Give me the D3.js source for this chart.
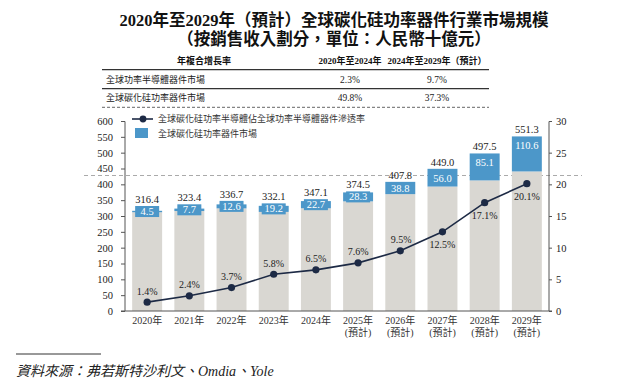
<!DOCTYPE html>
<html><head><meta charset="utf-8">
<script src="https://cdn.jsdelivr.net/npm/d3@7"></script>
<style>
html,body{margin:0;padding:0;background:#fff;}
svg{display:block;}
</style></head>
<body>
<script>
const years = ["2020年","2021年","2022年","2023年","2024年","2025年","2026年","2027年","2028年","2029年"];
const forecast = [false,false,false,false,false,true,true,true,true,true];
const totalMarket = [316.4,323.4,336.7,332.1,347.1,374.5,407.8,449.0,497.5,551.3];
const sicMarket = [4.5,7.7,12.6,19.2,22.7,28.3,38.8,56.0,85.1,110.6];
const penetration = [1.4,2.4,3.7,5.8,6.5,7.6,9.5,12.5,17.1,20.1];
const leftTicks = [0,50,100,150,200,250,300,350,400,450,500,550,600];
const rightTicks = [0,5,10,15,20,25,30];
const titleLines = ["2020年至2029年（預計）全球碳化硅功率器件行業市場規模","（按銷售收入劃分，單位：人民幣十億元）"];
const tableHeader = ["年複合增長率","2020年至2024年","2024年至2029年（預計）"];
const tableRows = [["全球功率半導體器件市場","2.3%","9.7%"],["全球碳化硅功率器件市場","49.8%","37.3%"]];
const legendLabels = ["全球碳化硅功率半導體佔全球功率半導體器件滲透率","全球碳化硅功率器件市場"];
const sourceText = "資料來源：弗若斯特沙利文、Omdia、Yole";

const W = 640, H = 379;
const FONT = "'Liberation Serif','Noto Sans CJK TC',serif";
const BLUE = "#4c97c9", GRAY = "#d9d7d2", LINE = "#1d2a45", TXT = "#222";

const svg = d3.select("body").append("svg").attr("width", W).attr("height", H)
  .style("font-family", FONT);

// Title
svg.selectAll("text.title").data(titleLines).enter().append("text")
  .attr("x", 334).attr("y", (d,i)=> i===0 ? 25.5 : 44.5)
  .attr("text-anchor","middle").attr("font-size",16.5).attr("font-weight","bold")
  .attr("fill","#111").text(d=>d);

// Table
const tx0 = 102, tx1 = 489;
const colX = [204, 350, 437];
svg.selectAll("text.th").data(tableHeader).enter().append("text")
  .attr("x",(d,i)=>colX[i]).attr("y",64).attr("text-anchor","middle")
  .attr("font-size",9).attr("font-weight","bold").attr("fill","#111").text(d=>d);
svg.append("line").attr("x1",tx0).attr("x2",tx1).attr("y1",69.7).attr("y2",69.7).attr("stroke","#333").attr("stroke-width",1.2);
svg.append("line").attr("x1",tx0).attr("x2",tx1).attr("y1",88.7).attr("y2",88.7).attr("stroke","#333").attr("stroke-width",1.2);
svg.append("line").attr("x1",tx0).attr("x2",tx1).attr("y1",107.3).attr("y2",107.3).attr("stroke","#666").attr("stroke-width",1).attr("stroke-dasharray","3,2");
tableRows.forEach((row,r)=>{
  const y = r===0 ? 83 : 101;
  row.forEach((c,i)=>{
    svg.append("text").attr("x", i===0 ? 106 : colX[i]).attr("y",y)
      .attr("text-anchor", i===0 ? "start" : "middle")
      .attr("font-size", i===0 ? 9 : 9.5).attr("fill","#222").text(c);
  });
});

// Scales
const x = d3.scaleBand().domain(years).range([125,549]).paddingInner(0.29).paddingOuter(0.17);
const yL = d3.scaleLinear().domain([0,600]).range([311,121]);
const yR = d3.scaleLinear().domain([0,30]).range([311,121]);

// dashed reference line (across)
svg.append("line").attr("x1",84).attr("x2",582).attr("y1",175.5).attr("y2",175.5)
  .attr("stroke","#aaa").attr("stroke-width",1).attr("stroke-dasharray","4,3");

// Gray bars
const bw = x.bandwidth();
svg.selectAll("rect.base").data(years).enter().append("rect")
  .attr("x",d=>x(d)).attr("width",bw)
  .attr("y",(d,i)=>yL(totalMarket[i]-sicMarket[i]))
  .attr("height",(d,i)=>yL(0)-yL(totalMarket[i]-sicMarket[i]))
  .attr("fill",GRAY);
// Blue segments
svg.selectAll("rect.sic").data(years).enter().append("rect")
  .attr("x",d=>x(d)).attr("width",bw)
  .attr("y",(d,i)=>yL(totalMarket[i]))
  .attr("height",(d,i)=>Math.max(1.2, yL(totalMarket[i]-sicMarket[i])-yL(totalMarket[i])))
  .attr("fill",BLUE);

// Label boxes for small segments + labels
const boxH = 11, boxW = 24;
years.forEach((yr,i)=>{
  const top = yL(totalMarket[i]);
  const bot = yL(totalMarket[i]-sicMarket[i]);
  const segH = bot - top;
  const cx = x(yr) + bw/2;
  const cy = (top+bot)/2;
  let labelTop = top;
  if (segH < 9.5) {
    svg.append("rect").attr("x",cx-boxW/2).attr("y",cy-boxH/2).attr("width",boxW).attr("height",boxH).attr("fill",BLUE);
    labelTop = Math.min(top, cy-boxH/2);
  }
  svg.append("text").attr("x",cx).attr("y", segH < 9.5 ? cy+3.6 : (segH < 16 ? cy+3.8 : top + 13))
    .attr("text-anchor","middle").attr("font-size",10.5).attr("fill","#fff").text(sicMarket[i].toFixed(1));
  svg.append("text").attr("x",cx).attr("y",labelTop-3)
    .attr("text-anchor","middle").attr("font-size",10.5).attr("fill",TXT).text(totalMarket[i].toFixed(1));
});

// Axes
const axL = svg.append("g").attr("transform","translate(125,0)")
  .call(d3.axisLeft(yL).tickValues(leftTicks).tickSize(4).tickPadding(8).tickFormat(d3.format("d")));
const axR = svg.append("g").attr("transform","translate(549,0)")
  .call(d3.axisRight(yR).tickValues(rightTicks).tickSize(3).tickPadding(4).tickFormat(d3.format("d")));
[axL,axR].forEach(a=>{
  a.select(".domain").attr("stroke","#555");
  a.selectAll(".tick line").attr("stroke","#555");
  a.selectAll(".tick text").attr("font-size",10.5).attr("fill",TXT).attr("font-family",FONT);
});
axL.select(".domain").attr("d","M-4,121.5H0V311H-4");
axR.select(".domain").attr("d","M3,121.5H0V311H3");
svg.append("line").attr("x1",125).attr("x2",549).attr("y1",311).attr("y2",311).attr("stroke","#555");

// X labels
years.forEach((yr,i)=>{
  const cx = x(yr)+bw/2;
  svg.append("text").attr("x",cx).attr("y",324).attr("text-anchor","middle")
    .attr("font-size",10).attr("fill","#333").text(yr);
  if (forecast[i]) svg.append("text").attr("x",cx).attr("y",336).attr("text-anchor","middle")
    .attr("font-size",10).attr("fill","#333").text("(預計)");
});

// Line
const line = d3.line().x((d,i)=>x(years[i])+bw/2).y(d=>yR(d));
svg.append("path").datum(penetration).attr("d",line).attr("fill","none").attr("stroke",LINE).attr("stroke-width",1.6);
svg.selectAll("circle.pt").data(penetration).enter().append("circle")
  .attr("cx",(d,i)=>x(years[i])+bw/2).attr("cy",d=>yR(d)).attr("r",3.6).attr("fill",LINE);
svg.selectAll("text.pl").data(penetration).enter().append("text")
  .attr("x",(d,i)=>x(years[i])+bw/2 + (i===6?1:0))
  .attr("y",(d,i)=> i>=7 ? yR(d)+16 : yR(d)-7.5)
  .attr("text-anchor","middle").attr("font-size",10).attr("fill",TXT)
  .text(d=>d.toFixed(1)+"%");

// Legend
svg.append("line").attr("x1",132).attr("x2",153).attr("y1",119).attr("y2",119).attr("stroke",LINE).attr("stroke-width",1.6);
svg.append("circle").attr("cx",143).attr("cy",119).attr("r",3.4).attr("fill",LINE);
svg.append("text").attr("x",158).attr("y",122).attr("font-size",9).attr("fill","#333").text(legendLabels[0]);
svg.append("rect").attr("x",135).attr("y",128).attr("width",13).attr("height",10).attr("fill",BLUE);
svg.append("text").attr("x",158).attr("y",136.5).attr("font-size",9).attr("fill","#333").text(legendLabels[1]);

// Source
svg.append("line").attr("x1",16).attr("x2",101).attr("y1",354).attr("y2",354).attr("stroke","#333").attr("stroke-width",1);
svg.append("text").attr("x",16).attr("y",375.5).attr("font-size",14).attr("font-style","italic")
  .attr("fill","#222").text(sourceText);
</script>
</body></html>
